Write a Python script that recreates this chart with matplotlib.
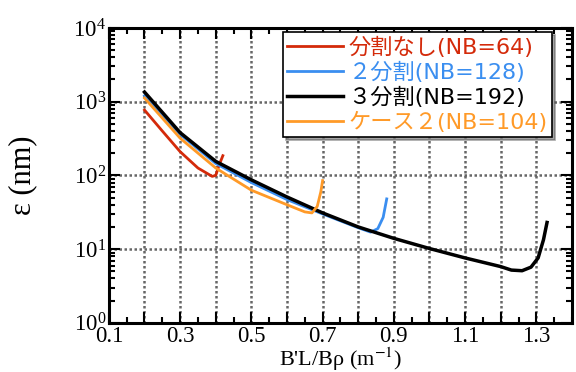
import matplotlib.pyplot as plt
from matplotlib.ticker import MultipleLocator, LogLocator, NullFormatter

plt.rcParams["mathtext.fontset"] = "stix"

# 分割なし (NB=64)
x_red = [0.20, 0.25, 0.30, 0.35, 0.39, 0.40, 0.41, 0.42]
y_red = [770, 400, 210, 126, 97, 100, 140, 185]

# 2分割 (NB=128)
x_blue = [0.20, 0.30, 0.40, 0.50, 0.60, 0.70, 0.80, 0.835, 0.855, 0.870, 0.880]
y_blue = [1200, 360, 145, 80, 47, 30, 19.5, 17, 19, 27, 48]

# 3分割 (NB=192)
x_black = [0.20, 0.30, 0.40, 0.50, 0.60, 0.70, 0.80, 0.90, 1.00, 1.10, 1.20,
           1.23, 1.26, 1.285, 1.305, 1.32, 1.33]
y_black = [1350, 380, 155, 87, 51, 31, 20, 14, 10.2, 7.6, 5.8,
           5.2, 5.1, 5.7, 7.6, 13.4, 23]

# ケース2 (NB=104)
x_orange = [0.20, 0.30, 0.40, 0.50, 0.60, 0.65, 0.67, 0.685, 0.695, 0.70]
y_orange = [1120, 320, 126, 63, 40, 32, 31, 38, 60, 85]

labels = ["分割なし(NB=64)", "２分割(NB=128)", "３分割(NB=192)", "ケース２(NB=104)"]
colors = ["#d42a0a", "#3a8ef0", "#000000", "#ff9a28"]

fig = plt.figure(figsize=(5.76, 3.72), dpi=100)
ax = fig.add_axes([0.189, 0.132, 0.804, 0.793])

series = [(x_red, y_red), (x_blue, y_blue), (x_black, y_black), (x_orange, y_orange)]
widths = [2.0, 2.0, 2.5, 2.0]
for (xs, ys), c, lab, lw in zip(series, colors, labels, widths):
    ax.plot(xs, ys, color=c, lw=lw, label=lab, zorder=3)

ax.set_yscale("log")
ax.set_xlim(0.1, 1.4)
ax.set_ylim(1, 1e4)

ax.xaxis.set_minor_locator(MultipleLocator(0.05))
ax.set_xticks([0.1 * i for i in range(1, 14)])
ax.set_xticklabels([f"{0.1 * i:.1f}" if i % 2 == 1 else "" for i in range(1, 14)])
ax.yaxis.set_major_locator(LogLocator(base=10, numticks=10))
ax.yaxis.set_minor_locator(LogLocator(base=10, subs=range(2, 10), numticks=10))
ax.yaxis.set_minor_formatter(NullFormatter())

ax.grid(True, which="major", color="#666666", linestyle=(0, (1, 1)), linewidth=1.8)
ax.tick_params(which="both", direction="in", top=True, right=True, width=1.5)
ax.tick_params(which="major", length=8, pad=2)
ax.tick_params(which="minor", length=4)
for lab in ax.get_xticklabels() + ax.get_yticklabels():
    lab.set_fontfamily("Liberation Serif")
    lab.set_fontsize(16.5)
for s in ax.spines.values():
    s.set_linewidth(2.2)

ax.set_xlabel("B'L/Bρ (m$^{-1}$)", fontsize=16, family="Liberation Serif")
ax.xaxis.set_label_coords(0.5, -0.077)
ax.xaxis.label.set_va("top")
ax.set_ylabel("ε (nm)", fontsize=22, family="Liberation Serif")
ax.yaxis.set_label_coords(-0.155, 0.5)

leg = ax.legend(loc="upper right", bbox_to_anchor=(0.957, 0.985), fancybox=False,
                shadow=True, framealpha=1, edgecolor="black", handlelength=2.5,
                handletextpad=0.25, borderpad=0.2, borderaxespad=0.0,
                labelspacing=0.17,
                prop={"family": ["DejaVu Sans", "Noto Sans CJK JP"], "size": 16})
leg.get_frame().set_linewidth(1.2)
for txt, c in zip(leg.get_texts(), colors):
    txt.set_color(c)

fig.savefig("out.png", dpi=100)
